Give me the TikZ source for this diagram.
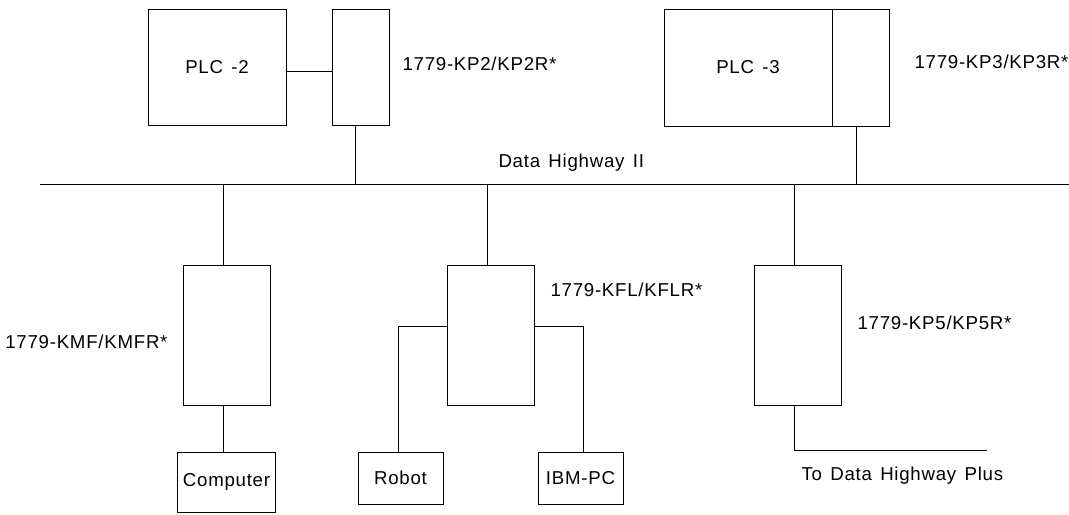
\documentclass[tikz,border=0pt]{standalone}
\usepackage{fontspec}
\setmainfont{Liberation Sans}[LetterSpace=4, WordSpace=1.4]
\newdimen\pxu \pxu=0.75pt
\begin{document}
\begin{tikzpicture}[x=0.75pt,y=-0.75pt, line width=0.75pt,
  txt/.style={font=\fontsize{14}{16}\selectfont},
  box/.style={draw, inner sep=0, txt},
  lbl/.style={inner sep=0, anchor=west, txt},
  wire/.style={draw, line width=0.75pt}]
\useasboundingbox (0,0) rectangle (1069,514);
% top devices
\node[box, minimum width=138\pxu, minimum height=116\pxu] (PLC2) at (217,67) {PLC -2};
\node[box, minimum width=57\pxu, minimum height=116\pxu] (KP2) at (360.5,67) {};
\node[box, minimum width=168\pxu, minimum height=117\pxu] (PLC3) at (748,67.5) {PLC -3};
\node[box, minimum width=57\pxu, minimum height=117\pxu] (KP3) at (860.5,67.5) {};
% lower devices
\node[box, minimum width=87\pxu, minimum height=140\pxu] (KMF) at (226.5,335) {};
\node[box, minimum width=98\pxu, minimum height=60\pxu] (Comp) at (226.5,482) {Computer};
\node[box, minimum width=87\pxu, minimum height=140\pxu] (KFL) at (490.5,335) {};
\node[box, minimum width=85\pxu, minimum height=52\pxu] (Robot) at (400.5,478) {Robot};
\node[box, minimum width=85\pxu, minimum height=52\pxu] (IBM) at (580.5,478) {IBM-PC};
\node[box, minimum width=87\pxu, minimum height=140\pxu] (KP5) at (797.5,335) {};
% labels
\node[lbl] (lKP2) at (402,64) {1779-KP2/KP2R*};
\node[lbl] (lKP3) at (914,62) {1779-KP3/KP3R*};
\node[lbl] (lDH) at (498,163) {Data Highway II};
\node[lbl, anchor=east] (lKMF) at (168,342) {1779-KMF/KMFR*};
\node[lbl] (lKFL) at (550,290) {1779-KFL/KFLR*};
\node[lbl] (lKP5) at (857,323) {1779-KP5/KP5R*};
\node[lbl] (lDHP) at (801,476) {To Data Highway Plus};
% bus
\coordinate (busL) at (40,184.5);
\coordinate (busR) at (1069,184.5);
\coordinate (t2) at (355,184.5);
\coordinate (t3) at (856,184.5);
\coordinate (tKMF) at (223,184.5);
\coordinate (tKFL) at (487,184.5);
\coordinate (tKP5) at (794,184.5);
\coordinate (dhpEnd) at (987,450.5);
\draw (busL) -- (busR);
% connectors
\draw (PLC2.east |- 0,71) -- (KP2.west |- 0,71);
\draw (t2 |- KP2.south) -- (t2);
\draw (t3 |- KP3.south) -- (t3);
\draw (tKMF) -- (tKMF |- KMF.north);
\draw (tKMF |- KMF.south) -- (tKMF |- Comp.north);
\draw (tKFL) -- (tKFL |- KFL.north);
\draw (KFL.west |- 0,326) -| (398,0 |- Robot.north);
\draw (KFL.east |- 0,326) -| (583,0 |- IBM.north);
\draw (tKP5) -- (tKP5 |- KP5.north);
\draw (tKP5 |- KP5.south) |- (dhpEnd);
\end{tikzpicture}
\end{document}
